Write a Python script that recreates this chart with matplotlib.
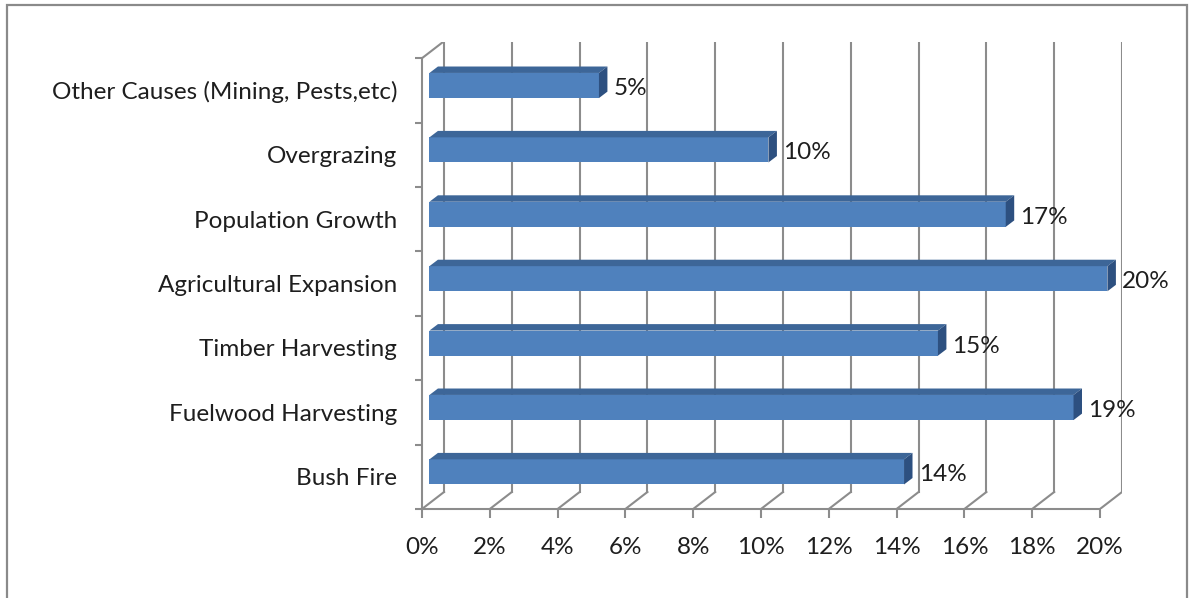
import matplotlib.pyplot as plt
from matplotlib.patches import Polygon, Rectangle

plt.rcParams['font.family'] = ['Lato', 'DejaVu Sans']

causes = ['Bush Fire', 'Fuelwood Harvesting', 'Timber Harvesting',
          'Agricultural Expansion', 'Population Growth', 'Overgrazing',
          'Other Causes (Mining, Pests,etc)']
shares = [0.14, 0.19, 0.15, 0.20, 0.17, 0.10, 0.05]
xticks = [0.00, 0.02, 0.04, 0.06, 0.08, 0.10, 0.12, 0.14, 0.16, 0.18, 0.20]

grid_c = '#8c8c8c'
txt_c = '#1e1e1e'
front_c = '#4f81bd'
top_c = '#3d6698'
side_c = '#2d5080'

# depth of the 3d box (data units)
DX, DY = 0.0065, 0.264
# bar placement inside the box
BSX, BSY = 0.0022, 0.076
BDX, BDY = 0.0025, 0.1
BH = 0.39

fig = plt.figure(figsize=(11.92, 5.98), dpi=100)
ax = fig.add_axes([422 / 1192, 89 / 598, 700 / 1192, 467 / 598])
ax.set_xlim(0, 0.20 + DX)
ax.set_ylim(-0.5, -0.5 + 467 / 64.4)
ax.patch.set_alpha(0)

n = len(causes)
top = n - 0.5

# back wall gridlines and floor diagonals
for x in xticks:
    ax.plot([x + DX, x + DX], [-0.5 + DY, top + DY], color=grid_c, lw=1.5, zorder=1)
    ax.plot([x, x + DX], [-0.5, -0.5 + DY], color=grid_c, lw=1.5, zorder=1)
ax.plot([0, DX], [top, top + DY], color=grid_c, lw=1.5, zorder=1)

# bars
for i, v in enumerate(shares):
    yc = i + BSY
    ax.barh(yc, v, left=BSX, height=BH, color=front_c, edgecolor='none', zorder=3)
    y0, y1 = yc - BH / 2, yc + BH / 2
    x1 = BSX + v
    ax.add_patch(Polygon([(BSX, y1), (x1, y1), (x1 + BDX, y1 + BDY), (BSX + BDX, y1 + BDY)],
                         closed=True, facecolor=top_c, edgecolor='none', zorder=3))
    ax.add_patch(Polygon([(x1, y0), (x1, y1), (x1 + BDX, y1 + BDY), (x1 + BDX, y0 + BDY)],
                         closed=True, facecolor=side_c, edgecolor='none', zorder=3))
    ax.text(v + 0.0065, i + 0.03, f'{v * 100:.0f}%', va='center', ha='left',
            fontsize=17.5, color=txt_c)

for s in ['top', 'right']:
    ax.spines[s].set_visible(False)
for s in ['left', 'bottom']:
    ax.spines[s].set_color(grid_c)
    ax.spines[s].set_linewidth(1.5)
ax.spines['left'].set_bounds(-0.5, top)
ax.spines['bottom'].set_bounds(0, 0.20)

ax.set_xticks(xticks)
ax.set_xticklabels([f'{t * 100:.0f}%' for t in xticks])
ax.tick_params(axis='x', length=6.5, width=1.5, color=grid_c, pad=14,
               labelsize=17.5, labelcolor=txt_c)

ax.set_yticks([k - 0.5 for k in range(n + 1)])
ax.set_yticklabels([])
ax.set_yticks(range(n), minor=True)
ax.set_yticklabels(causes, minor=True)
ax.tick_params(axis='y', which='major', length=5, width=1.5, color=grid_c)
ax.tick_params(axis='y', which='minor', length=0, pad=18, labelsize=17.5, labelcolor=txt_c)

fig.patches.append(Rectangle((7 / 1192, -0.05), 1180 / 1192, 1.05 - 5 / 598,
                             transform=fig.transFigure, fill=False,
                             edgecolor='#8a8a8a', lw=1.6))

fig.savefig('out.png', dpi=100)
